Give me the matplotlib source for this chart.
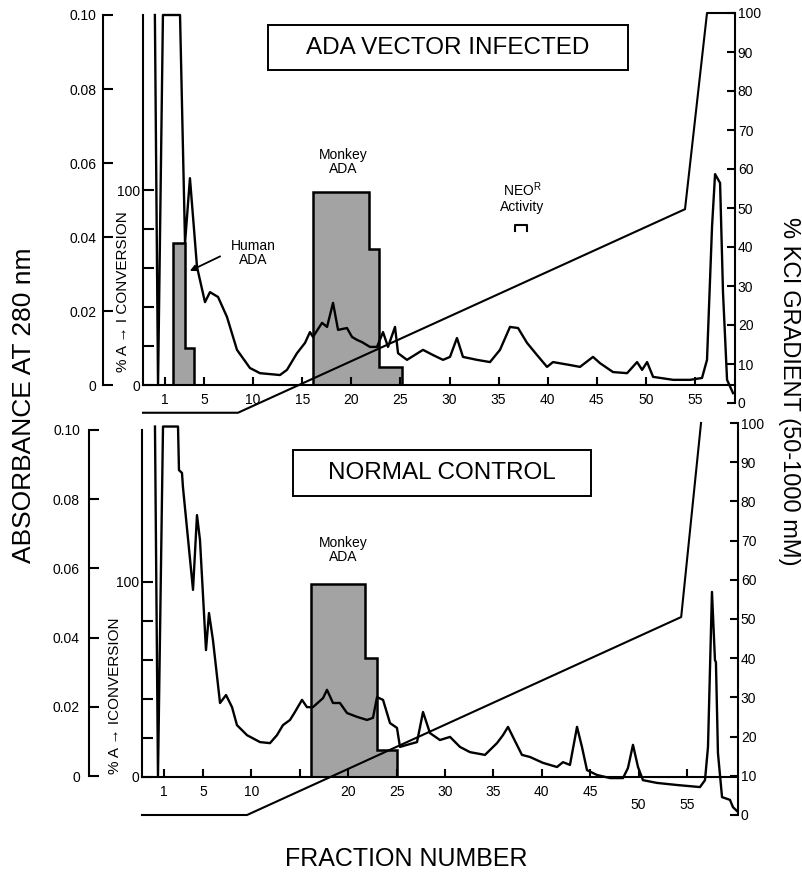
import matplotlib.pyplot as plt
from matplotlib.patches import Rectangle

plt.rcParams['font.family'] = ['Liberation Sans', 'DejaVu Sans']

# ---- ADA vector infected (top) ----
top_frac = [0.0, 0.32, 0.82, 2.56, 3.07, 3.57, 4.29, 5.10, 5.61, 6.43, 7.34, 8.36, 9.68, 10.70,
            12.74, 13.45, 14.47, 15.29, 15.79, 16.10, 17.02, 17.53, 18.14, 18.65, 19.56, 20.07,
            20.58, 21.09, 21.90, 22.62, 23.23, 23.74, 24.45, 24.76, 25.67, 27.30, 28.32, 29.34,
            30.05, 30.76, 31.37, 32.80, 34.12, 35.14, 36.16, 36.98, 37.89, 38.91, 39.93, 40.54,
            42.27, 43.29, 44.61, 45.33, 46.65, 48.08, 49.10, 49.61, 50.12, 50.73, 52.77, 54.49,
            55.71, 56.22, 56.73, 57.04, 57.55, 57.85, 58.26, 58.87]
top_abs = [0.100, 0.0, 0.100, 0.100, 0.0384, 0.0559, 0.0319, 0.0224, 0.0251, 0.0238, 0.0184,
           0.0095, 0.0046, 0.0032, 0.0027, 0.0041, 0.0086, 0.0114, 0.0143, 0.0130, 0.0168, 0.0157,
           0.0222, 0.0149, 0.0154, 0.0130, 0.0122, 0.0116, 0.0103, 0.0103, 0.0143, 0.0103, 0.0157,
           0.0086, 0.0068, 0.0095, 0.0081, 0.0068, 0.0076, 0.0127, 0.0076, 0.0068, 0.0062, 0.0095,
           0.0157, 0.0154, 0.0114, 0.0081, 0.0049, 0.0062, 0.0054, 0.0049, 0.0076, 0.0059, 0.0035,
           0.0032, 0.0062, 0.0041, 0.0062, 0.0022, 0.0014, 0.0014, 0.0019, 0.0068, 0.0427, 0.0570,
           0.0546, 0.0249, 0.0014, -0.0022]
top_human_edges = [1.86, 3.07, 3.95]
top_human_conv = [73, 19]
top_monkey_edges = [16.07, 21.83, 22.85, 25.16]
top_monkey_conv = [99, 70, 9]
top_grad_frac = [-1.21, 8.46, 53.98, 56.22, 59.07]
top_grad_kcl = [-2.5, -2.5, 49.7, 100, 100]

# ---- normal control (bottom) ----
bot_frac = [0.04, 0.35, 0.87, 2.42, 2.52, 2.83, 2.93, 3.97, 4.38, 4.69, 5.31, 5.62, 6.03, 6.76,
            7.38, 8.00, 8.51, 9.55, 10.89, 11.92, 12.64, 13.26, 13.99, 14.50, 15.23, 15.74, 16.36,
            17.40, 17.81, 18.43, 19.15, 19.88, 20.91, 21.94, 22.56, 22.98, 23.60, 24.32, 25.04,
            25.35, 26.07, 27.11, 27.73, 28.45, 29.48, 30.52, 31.55, 32.58, 34.13, 35.37, 35.99,
            36.51, 37.02, 37.95, 38.78, 40.12, 41.57, 42.19, 42.91, 43.64, 44.15, 44.67, 45.70,
            47.05, 48.39, 48.90, 49.42, 49.94, 50.45, 51.90, 53.97, 56.34, 56.86, 57.17, 57.58,
            57.89, 57.99, 58.20, 58.62, 59.44, 59.75, 60.27]
bot_abs = [0.101, 0.0, 0.101, 0.101, 0.0884, 0.0876, 0.0835, 0.0538, 0.0754, 0.0682, 0.0364,
           0.0471, 0.0393, 0.0211, 0.0234, 0.0199, 0.0147, 0.0118, 0.0098, 0.0095, 0.0118, 0.0147,
           0.0162, 0.0185, 0.0220, 0.0199, 0.0199, 0.0225, 0.0249, 0.0211, 0.0211, 0.0182, 0.0171,
           0.0162, 0.0168, 0.0228, 0.0220, 0.0153, 0.0139, 0.0084, 0.0090, 0.0098, 0.0185, 0.0124,
           0.0104, 0.0113, 0.0084, 0.0069, 0.0061, 0.0095, 0.0118, 0.0142, 0.0113, 0.0061, 0.0055,
           0.0038, 0.0026, 0.0040, 0.0032, 0.0142, 0.0084, 0.0017, 0.0003, -0.0006, -0.0006, 0.0023,
           0.0090, 0.0026, -0.0012, -0.0020, -0.0026, -0.0032, -0.0012, 0.0084, 0.0532, 0.0335,
           0.0329, 0.0066, -0.0061, -0.0069, -0.0090, -0.0104]
bot_monkey_edges = [16.16, 21.74, 22.98, 25.04]
bot_monkey_conv = [99, 61, 14]
bot_grad_frac = [-1.3, 9.55, 54.4, 56.45]
bot_grad_kcl = [0, 0, 50.5, 100]

abs_ticks = [0, 0.02, 0.04, 0.06, 0.08, 0.10]
abs_labels = ['0', '0.02', '0.04', '0.06', '0.08', '0.10']
conv_ticks = [0, 20, 40, 60, 80, 100]
conv_labels = ['0', '', '', '', '', '100']
kcl_ticks = list(range(0, 101, 10))
frac_ticks = [1, 5, 10, 15, 20, 25, 30, 35, 40, 45, 50, 55]
top_frac_labels = ['1', '5', '10', '15', '20', '25', '30', '35', '40', '45', '50', '55']
bot_frac_labels = ['1', '5', '10', '', '20', '25', '30', '35', '40', '45', '50', '55']

GRAY = '#a3a3a3'
W, H = 803, 873

fig = plt.figure(figsize=(8.03, 8.73), dpi=100)


def panel(rect, xlim, abs_lim, conv_lim, abs_off, abs_pad):
    axc = fig.add_axes(rect)   # % A -> I conversion (bars), owns x axis
    axa = axc.twinx()          # absorbance trace
    axk = axc.twinx()          # % KCl gradient
    axc.set_xlim(xlim)
    axc.set_ylim(conv_lim)
    axa.set_ylim(abs_lim)
    axk.set_ylim(0, 100)
    for a in (axc, axa, axk):
        for s in a.spines.values():
            s.set_visible(False)
            s.set_linewidth(1.5)
    # x axis sits on zero
    axc.spines['bottom'].set_visible(True)
    axc.spines['bottom'].set_position(('data', 0))
    axc.set_xticks(frac_ticks)
    axc.tick_params(axis='x', direction='in', length=6, width=1.5, pad=5.5, labelsize=10)
    # conversion axis, line goes up to the 0.10 absorbance level
    conv_top = conv_lim[0] + (0.1 - abs_lim[0]) / (abs_lim[1] - abs_lim[0]) * (conv_lim[1] - conv_lim[0])
    axc.spines['left'].set_visible(True)
    axc.spines['left'].set_bounds(0, conv_top)
    axc.set_yticks(conv_ticks)
    axc.set_yticklabels(conv_labels)
    axc.tick_params(axis='y', direction='in', length=8, width=1.5, pad=2, labelsize=10)
    # absorbance axis, offset to the left
    axa.yaxis.tick_left()
    axa.spines['left'].set_visible(True)
    axa.spines['left'].set_position(('axes', abs_off))
    axa.spines['left'].set_bounds(0, 0.1)
    axa.set_yticks(abs_ticks)
    axa.set_yticklabels(abs_labels)
    axa.tick_params(axis='y', direction='in', length=7, width=1.5, pad=abs_pad, labelsize=10)
    # KCl axis on the right
    axk.spines['right'].set_visible(True)
    axk.spines['right'].set_bounds(0, 100)
    axk.set_yticks(kcl_ticks)
    axk.tick_params(axis='y', direction='in', length=6, width=1.5, pad=2, labelsize=10)
    return axc, axa, axk


def fig_xy(px, py):
    return px / W, 1 - py / H


# top panel
tc, ta, tk = panel([143 / W, 1 - 403 / H, 592 / W, 390 / H], (-1.21, 59.07),
                   (-0.00486, 0.10054), (-9.23, 190.8), -40 / 592, 4.5)
tc.set_xticklabels(top_frac_labels)
tc.stairs(top_human_conv, top_human_edges, fill=True, facecolor=GRAY, edgecolor='k', lw=1.8)
tc.stairs(top_monkey_conv, top_monkey_edges, fill=True, facecolor=GRAY, edgecolor='k', lw=1.8)
ta.plot(top_frac, top_abs, color='k', lw=1.7)
tk.plot(top_grad_frac, top_grad_kcl, color='k', lw=1.5, clip_on=False)
ta.text(19.15, 0.0604, 'Monkey\nADA', ha='center', va='center', fontsize=10, linespacing=1.0)
ta.text(10.0, 0.0357, 'Human\nADA', ha='center', va='center', fontsize=10, linespacing=1.0)
ta.annotate('', xy=(3.3, 0.0305), xytext=(6.9, 0.0351),
            arrowprops=dict(arrowstyle='-|>', color='k', lw=1.3, mutation_scale=9))
ta.text(37.4, 0.0527, r'NEO$^\mathregular{R}$', ha='center', va='center', fontsize=10)
ta.text(37.4, 0.0481, 'Activity', ha='center', va='center', fontsize=10)
ta.plot([36.7, 36.7, 37.9, 37.9], [0.0416, 0.0432, 0.0432, 0.0416], color='k', lw=1.5)

# bottom panel
bc, ba, bk = panel([142 / W, 1 - 815 / H, 596 / W, 392 / H], (-1.30, 60.27),
                   (-0.01127, 0.10202), (-19.5, 181.5), -53 / 596, 6.5)
bc.set_xticklabels(bot_frac_labels)
for t in bc.xaxis.get_major_ticks()[-2:]:
    t.set_pad(15.5)
bc.stairs(bot_monkey_conv, bot_monkey_edges, fill=True, facecolor=GRAY, edgecolor='k', lw=1.8)
ba.plot(bot_frac, bot_abs, color='k', lw=1.7)
bk.plot(bot_grad_frac, bot_grad_kcl, color='k', lw=1.5, clip_on=False)
ba.text(19.46, 0.0653, 'Monkey\nADA', ha='center', va='center', fontsize=10, linespacing=1.0)

# title boxes
for (x0, y0, x1, y1), txt in [((268, 25, 628, 70), 'ADA VECTOR INFECTED'),
                              ((293, 450, 591, 496), 'NORMAL CONTROL')]:
    fx, fy = fig_xy(x0, y1)
    fig.add_artist(Rectangle((fx, fy), (x1 - x0) / W, (y1 - y0) / H, transform=fig.transFigure,
                             fill=False, edgecolor='k', lw=1.4))
    cx, cy = fig_xy((x0 + x1) / 2, (y0 + y1) / 2)
    fig.text(cx, cy, txt, ha='center', va='center', fontsize=17.5)

# axis titles
fig.text(*fig_xy(24, 405), 'ABSORBANCE AT 280 nm', rotation=90, ha='center', va='center', fontsize=19)
fig.text(*fig_xy(789, 391), '% KCl GRADIENT (50-1000 mM)', rotation=270, ha='center', va='center',
         fontsize=17)
fig.text(*fig_xy(406, 859), 'FRACTION NUMBER', ha='center', va='center', fontsize=18)
fig.text(*fig_xy(123, 292), '% A \u2192 I CONVERSION', rotation=90, ha='center', va='center', fontsize=11)
fig.text(*fig_xy(115, 696), '% A \u2192 ICONVERSION', rotation=90, ha='center', va='center', fontsize=11)

fig.savefig('out.png', dpi=100)
